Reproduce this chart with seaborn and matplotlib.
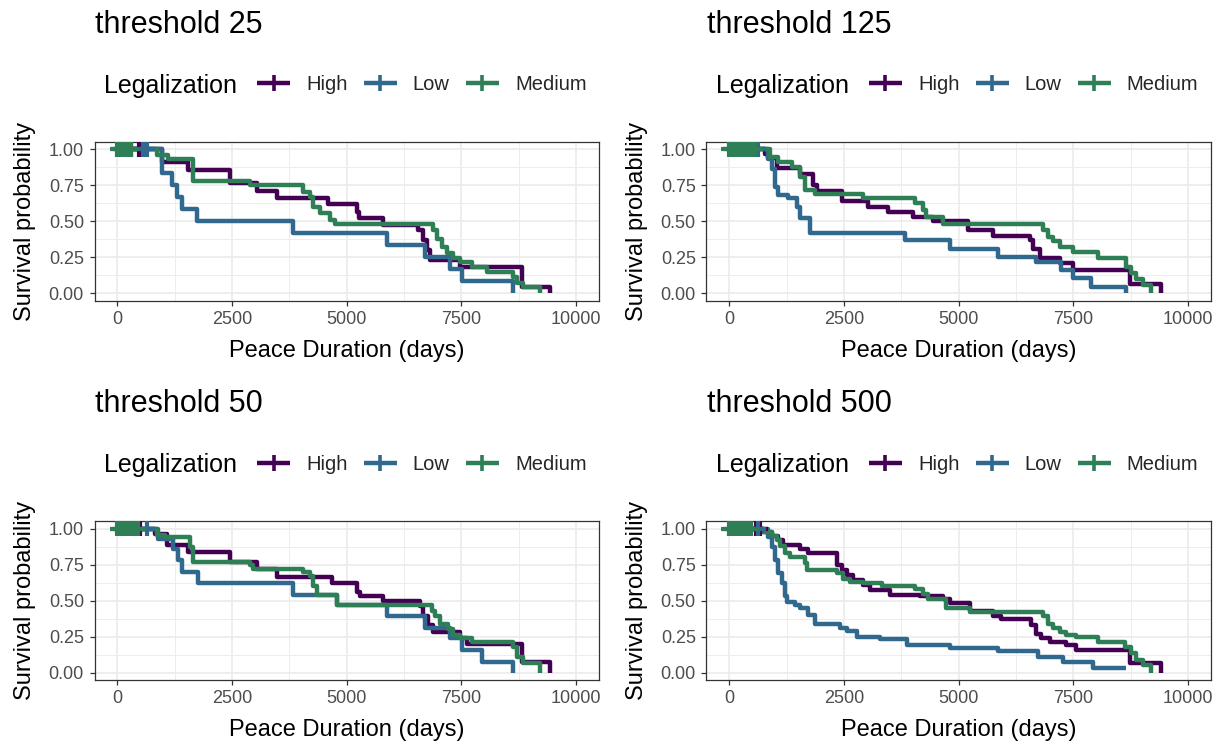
import matplotlib
matplotlib.use("Agg")
import matplotlib.pyplot as plt
from matplotlib.lines import Line2D
import numpy as np
import pandas as pd
import seaborn as sns

# ---------------- data (Kaplan-Meier step curves) ----------------
GROUPS = ["High", "Low", "Medium"]
COLORS = {"High": "#440154", "Low": "#31688E", "Medium": "#2E7F56"}
TITLES = ["threshold 25", "threshold 125", "threshold 50", "threshold 500"]
X_TICKS = [0, 2500, 5000, 7500, 10000]
Y_TICKS = [0.0, 0.25, 0.5, 0.75, 1.0]
Y_TICK_LABELS = ["0.00", "0.25", "0.50", "0.75", "1.00"]

# threshold 25
t25_high_time = [0, 967, 1548, 2456, 3038, 3474, 4600, 5218, 5276, 5799, 6562, 6671, 6744, 6816, 7470, 8815, 9432]
t25_high_surv = [1, 0.914, 0.856, 0.764, 0.71, 0.664, 0.62, 0.567, 0.52, 0.475, 0.44, 0.37, 0.30, 0.23, 0.185, 0.046, 0]
t25_low_time = [0, 967, 1185, 1294, 1403, 1730, 3837, 5872, 6707, 7252, 7507, 8633]
t25_low_surv = [1, 0.833, 0.75, 0.667, 0.583, 0.5, 0.417, 0.333, 0.25, 0.167, 0.083, 0]
t25_med_time = [0, 857, 1112, 1657, 2892, 4055, 4200, 4273, 4418, 4636, 4745, 6889, 6962, 7071, 7180, 7325,
                7470, 7725, 8052, 8633, 8706, 8851, 9215]
t25_med_surv = [1, 0.96, 0.93, 0.78, 0.75, 0.706, 0.67, 0.6, 0.555, 0.51, 0.48, 0.44, 0.38, 0.324, 0.28, 0.243,
                0.22, 0.185, 0.15, 0.116, 0.07, 0.046, 0]
t25_high_cens = [100, 300, 480]
t25_low_cens = [200, 560, 650]
t25_med_cens = [0, 40, 80, 120, 160, 200, 240, 290]

# threshold 125
t125_high_time = [0, 777, 850, 1031, 1540, 1830, 1903, 2447, 3028, 3464, 4009, 4444, 5207, 5751, 6550, 6623,
                  6768, 7204, 7494, 8729, 9419]
t125_high_surv = [1, 0.97, 0.94, 0.87, 0.83, 0.75, 0.71, 0.64, 0.60, 0.567, 0.53, 0.50, 0.44, 0.40, 0.37, 0.31,
                  0.243, 0.21, 0.16, 0.065, 0]
t125_low_time = [0, 850, 922, 995, 1068, 1285, 1467, 1540, 1757, 3827, 4807, 5860, 6696, 7240, 7494, 7894, 8656]
t125_low_surv = [1, 0.93, 0.86, 0.74, 0.68, 0.66, 0.6, 0.52, 0.417, 0.37, 0.31, 0.255, 0.22, 0.16, 0.104, 0.046, 0]
t125_med_time = [0, 886, 1068, 1358, 1540, 1648, 1866, 2919, 4045, 4226, 4299, 4662, 6841, 6950, 7059, 7204,
                 7494, 8039, 8656, 8765, 8874, 9019, 9201]
t125_med_surv = [1, 0.95, 0.91, 0.88, 0.81, 0.72, 0.69, 0.66, 0.63, 0.58, 0.53, 0.48, 0.44, 0.39, 0.36, 0.324,
                 0.29, 0.243, 0.185, 0.14, 0.10, 0.06, 0]
t125_high_cens = [150, 400]
t125_low_cens = [100, 300, 620]
t125_med_cens = [0, 40, 80, 120, 160, 200, 240, 280, 320, 360, 400, 440, 480, 520, 560]

# threshold 50
t50_high_time = [0, 821, 1076, 1548, 2456, 3038, 3474, 4673, 5218, 5290, 5799, 6598, 6671, 6780, 6889, 7470,
                 7616, 8815, 9432]
t50_high_surv = [1, 0.965, 0.885, 0.84, 0.77, 0.72, 0.665, 0.62, 0.56, 0.53, 0.50, 0.46, 0.39, 0.33, 0.28, 0.24,
                 0.2, 0.076, 0]
t50_low_time = [0, 894, 1221, 1330, 1403, 1766, 3837, 4782, 5872, 6707, 7252, 7507, 7943, 8633]
t50_low_surv = [1, 0.93, 0.86, 0.78, 0.70, 0.62, 0.54, 0.47, 0.39, 0.31, 0.24, 0.157, 0.076, 0]
t50_med_time = [0, 857, 1039, 1584, 1657, 2892, 2965, 4055, 4200, 4273, 4346, 4782, 6853, 6925, 7034, 7216,
                7325, 7470, 7725, 8633, 8706, 8851, 9215]
t50_med_surv = [1, 0.955, 0.94, 0.87, 0.77, 0.746, 0.72, 0.70, 0.67, 0.6, 0.54, 0.47, 0.43, 0.39, 0.34, 0.3,
                0.26, 0.24, 0.215, 0.18, 0.11, 0.065, 0]
t50_high_cens = [200, 500]
t50_low_cens = [300, 640]
t50_med_cens = [0, 40, 80, 120, 160, 200, 240, 280, 320, 360, 400, 450]

# threshold 500
t500_high_time = [0, 741, 922, 1068, 1176, 1540, 1721, 2338, 2447, 2556, 2701, 2919, 3064, 3500, 4154, 4662,
                  4807, 5243, 5751, 5933, 6587, 6696, 6804, 6986, 7349, 7567, 8730, 9419]
t500_high_surv = [1, 0.975, 0.95, 0.92, 0.885, 0.86, 0.83, 0.746, 0.71, 0.675, 0.64, 0.607, 0.57, 0.54, 0.53,
                  0.51, 0.48, 0.43, 0.395, 0.37, 0.33, 0.27, 0.24, 0.215, 0.19, 0.157, 0.065, 0]
t500_low_time = [0, 850, 922, 995, 1068, 1140, 1213, 1249, 1431, 1540, 1721, 1866, 2411, 2556, 2774, 3282,
                 3863, 4807, 5860, 6732, 7277, 7930, 8656]
t500_low_surv = [1, 0.94, 0.87, 0.78, 0.69, 0.62, 0.53, 0.49, 0.47, 0.45, 0.40, 0.335, 0.31, 0.29, 0.25, 0.23,
                 0.19, 0.17, 0.15, 0.11, 0.076, 0.03, 0.03]
t500_med_time = [0, 741, 922, 1031, 1104, 1213, 1322, 1648, 1685, 2338, 2484, 2629, 2919, 3319, 4045, 4226,
                 4335, 4735, 5243, 6841, 6950, 7059, 7204, 7349, 7567, 8039, 8620, 8765, 8874, 9019, 9201]
t500_med_surv = [1, 0.975, 0.95, 0.92, 0.88, 0.83, 0.8, 0.76, 0.71, 0.69, 0.65, 0.63, 0.62, 0.6, 0.58, 0.545,
                 0.51, 0.445, 0.42, 0.39, 0.34, 0.31, 0.28, 0.26, 0.25, 0.215, 0.18, 0.134, 0.088, 0.053, 0]
t500_high_cens = [300, 580, 660]
t500_low_cens = [200, 620]
t500_med_cens = [0, 40, 80, 120, 160, 200, 240, 280, 320, 360, 400, 440, 480]

PANEL_DATA = [
    {"High": (t25_high_time, t25_high_surv, t25_high_cens),
     "Low": (t25_low_time, t25_low_surv, t25_low_cens),
     "Medium": (t25_med_time, t25_med_surv, t25_med_cens)},
    {"High": (t125_high_time, t125_high_surv, t125_high_cens),
     "Low": (t125_low_time, t125_low_surv, t125_low_cens),
     "Medium": (t125_med_time, t125_med_surv, t125_med_cens)},
    {"High": (t50_high_time, t50_high_surv, t50_high_cens),
     "Low": (t50_low_time, t50_low_surv, t50_low_cens),
     "Medium": (t50_med_time, t50_med_surv, t50_med_cens)},
    {"High": (t500_high_time, t500_high_surv, t500_high_cens),
     "Low": (t500_low_time, t500_low_surv, t500_low_cens),
     "Medium": (t500_med_time, t500_med_surv, t500_med_cens)},
]

# ---------------- style / layout ----------------
sns.set_theme(style="white")
plt.rcParams["font.family"] = ["Liberation Sans", "DejaVu Sans"]

W, H = 1228, 747
fig = plt.figure(figsize=(W / 100, H / 100), dpi=100)
fig.patch.set_facecolor("white")

def fx(px):
    return px / W

def fy(py):
    return 1 - py / H

AX_W, AX_H = 504.5, 158.4
LEFTS = [94.5, 706.4, 94.5, 706.4]
TOPS = [142.1, 142.1, 521.3, 521.3]

LINE_W = 3.2

for i, (title, pdata) in enumerate(zip(TITLES, PANEL_DATA)):
    left, top = LEFTS[i], TOPS[i]
    ax = fig.add_axes([fx(left), fy(top + AX_H), AX_W / W, AX_H / H])
    ax.set_facecolor("white")

    rows = []
    crows = []
    for g in GROUPS:
        t, s, c = pdata[g]
        n = min(len(t), len(s))
        for tt, ss in zip(t[:n], s[:n]):
            rows.append({"time": tt, "surv": ss, "Legalization": g})
        tarr = np.asarray(t[:n]); sarr = np.asarray(s[:n])
        for ct in c:
            idx = np.searchsorted(tarr, ct, side="right") - 1
            crows.append({"time": ct, "surv": sarr[max(idx, 0)], "Legalization": g})
    df = pd.DataFrame(rows)
    cdf = pd.DataFrame(crows)

    sns.lineplot(data=df, x="time", y="surv", hue="Legalization", hue_order=GROUPS,
                 palette=COLORS, estimator=None, drawstyle="steps-post", lw=LINE_W,
                 solid_capstyle="butt", legend=False, ax=ax, zorder=3)
    sns.scatterplot(data=cdf, x="time", y="surv", hue="Legalization", hue_order=GROUPS,
                    palette=COLORS, marker="+", s=130, linewidth=3.0, legend=False, ax=ax, zorder=4)

    ax.set_xlim(-500, 10500)
    ax.set_ylim(-0.05, 1.05)
    ax.set_xticks(X_TICKS)
    ax.set_xticklabels([str(v) for v in X_TICKS])
    ax.set_yticks(Y_TICKS)
    ax.set_yticklabels(Y_TICK_LABELS)
    ax.set_xticks([1250, 3750, 6250, 8750], minor=True)
    ax.set_yticks([0.125, 0.375, 0.625, 0.875], minor=True)
    ax.grid(which="major", color="#EBEBEB", lw=1.2, zorder=0)
    ax.grid(which="minor", color="#EDEDED", lw=0.7, zorder=0)
    ax.set_axisbelow(True)
    ax.tick_params(which="major", length=3.6, width=0.9, color="#333333",
                   labelcolor="#4D4D4D", labelsize=13, pad=4,
                   bottom=True, left=True)
    ax.tick_params(which="minor", length=0)
    for sp in ax.spines.values():
        sp.set_color("#333333")
        sp.set_linewidth(0.9)
    ax.set_xlabel("")
    ax.set_ylabel("")

    dx = left - 94.5
    dy = top - 142.1
    # title
    fig.text(fx(95 + dx), fy(33 + dy), title, fontsize=22, ha="left", va="baseline", color="black")
    # legend
    fig.text(fx(104 + dx), fy(92.5 + dy), "Legalization", fontsize=18, ha="left", va="baseline", color="black")
    handles = [Line2D([0], [0], color=COLORS[g], lw=LINE_W, marker="+", markersize=11,
                      markeredgewidth=2.6, solid_capstyle="butt") for g in GROUPS]
    fig.legend(handles, GROUPS, loc="center left", bbox_to_anchor=(fx(257 + dx), fy(85 + dy)),
               bbox_transform=fig.transFigure, ncol=3, frameon=False, fontsize=14.5,
               handlelength=1.64, handletextpad=0.8, columnspacing=0.8, borderpad=0,
               borderaxespad=0)
    # axis labels
    fig.text(fx(25 + dx), fy(top + AX_H / 2), "Survival probability", fontsize=17, rotation=90,
             ha="center", va="center", color="black")
    fig.text(fx(left + AX_W / 2), fy(351 + dy), "Peace Duration (days)", fontsize=17,
             ha="center", va="center", color="black")

fig.savefig("out.png", dpi=100, facecolor="white")
